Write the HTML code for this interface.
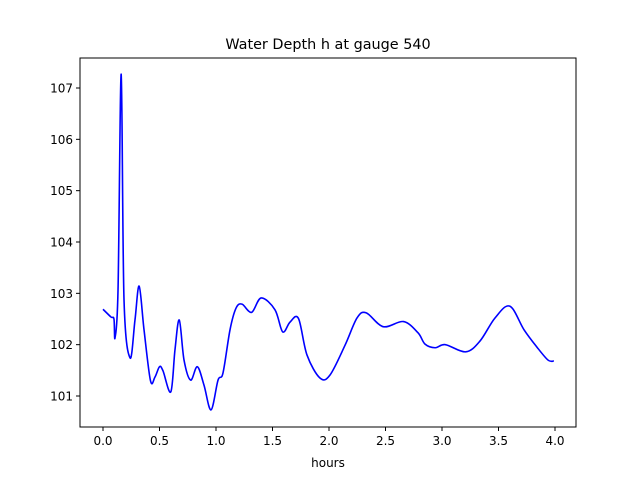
<!DOCTYPE html>
<html><head><meta charset="utf-8"><style>
body{margin:0;background:#fff;}
text{font-family:"DejaVu Sans","Liberation Sans",sans-serif;}
</style></head><body>
<svg id="chart" width="640" height="480" xmlns="http://www.w3.org/2000/svg">
<rect width="640" height="480" fill="#fff"/>
<text x="328" y="49" font-size="14.4" text-anchor="middle">Water Depth h at gauge 540</text>
<g id="axes"></g>
<text x="328" y="467" font-size="12" text-anchor="middle">hours</text>
</svg>
<script>
const times=[0,0.07,0.097,0.106,0.133,0.161,0.186,0.24,0.283,0.32,0.363,0.42,0.46,0.5,0.531,0.6,0.637,0.675,0.717,0.775,0.835,0.894,0.956,1.018,1.062,1.124,1.177,1.23,1.315,1.4,1.522,1.59,1.655,1.73,1.805,1.92,2.009,2.142,2.248,2.33,2.48,2.66,2.788,2.85,2.94,3.03,3.21,3.336,3.469,3.6,3.726,3.841,3.938,3.99];
const depths=[102.69,102.54,102.5,102.13,103.07,107.27,102.87,101.74,102.48,103.14,102.29,101.3,101.37,101.57,101.49,101.08,101.9,102.48,101.7,101.31,101.57,101.21,100.73,101.31,101.45,102.29,102.71,102.79,102.63,102.91,102.68,102.25,102.44,102.51,101.8,101.35,101.41,101.99,102.52,102.62,102.35,102.45,102.23,102.01,101.94,102.0,101.86,102.07,102.52,102.75,102.29,101.95,101.7,101.68];
const xTicks=["0.0","0.5","1.0","1.5","2.0","2.5","3.0","3.5","4.0"];
const yTicks=["101","102","103","104","105","106","107"];
const L=80,R=576,T=58,B=427;
const xs=t=>103+(t-0)*(555-103)/4;
const ys=v=>396-(v-101)*(396-88)/6;
const NS="http://www.w3.org/2000/svg";
const g=document.getElementById('axes');
function mk(tag,attrs){const e=document.createElementNS(NS,tag);for(const k in attrs)e.setAttribute(k,attrs[k]);g.appendChild(e);return e;}
// line
const pts=times.map((t,i)=>[xs(t),ys(depths[i])]);
let d="M"+pts[0][0]+","+pts[0][1];
for(let i=0;i<pts.length-1;i++){
 const p0=pts[Math.max(0,i-1)],p1=pts[i],p2=pts[i+1],p3=pts[Math.min(pts.length-1,i+2)];
 const c1=[p1[0]+(p2[0]-p0[0])/6,p1[1]+(p2[1]-p0[1])/6];
 const c2=[p2[0]-(p3[0]-p1[0])/6,p2[1]-(p3[1]-p1[1])/6];
 d+=` C${c1[0]},${c1[1]} ${c2[0]},${c2[1]} ${p2[0]},${p2[1]}`;
}
const line=mk('path',{d:d,fill:'none',stroke:'#0000ff','stroke-width':1.6});


const frame=mk('rect',{x:L,y:T,width:R-L,height:B-T,fill:'none',stroke:'#000','stroke-width':1});


xTicks.forEach(s=>{const x=xs(parseFloat(s));
 const tk=mk('line',{x1:x,x2:x,y1:B,y2:B+4,stroke:'#000'});
 
 
 const tx=mk('text',{x:x,y:B+18,'font-size':12,'text-anchor':'middle'});tx.textContent=s;
 
 
});
yTicks.forEach(s=>{const y=ys(parseFloat(s));
 const tk=mk('line',{x1:L-4,x2:L,y1:y,y2:y,stroke:'#000'});
 
 
 const tx=mk('text',{x:L-7,y:y+4.5,'font-size':12,'text-anchor':'end'});tx.textContent=s;
 
 
});
</script>
</body></html>
